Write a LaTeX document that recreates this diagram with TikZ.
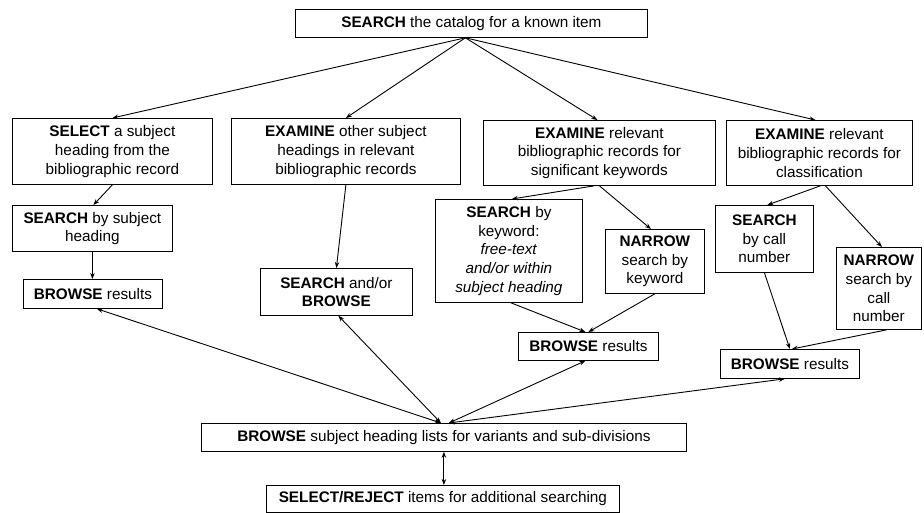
\documentclass[tikz,border=0pt]{standalone}
\usepackage{fontspec}
\setmainfont{Liberation Sans}
\usetikzlibrary{arrows.meta,calc}
\begin{document}
\begin{tikzpicture}[x=1pt,y=-1pt,
  box/.style={draw,line width=0.8pt,anchor=north west,align=center,inner sep=0pt,font=\fontsize{15.3}{18.7}\selectfont},
  arr/.style={line width=0.9pt,-{Stealth[length=6pt,width=4.5pt]}},
  darr/.style={line width=0.9pt,{Stealth[length=6pt,width=4.5pt]}-{Stealth[length=6pt,width=4.5pt]}}]
\useasboundingbox (0,0) rectangle (924,513);
\node[box,minimum width=352pt,minimum height=28pt] (top) at (295,9) {\textbf{SEARCH} the catalog for a known item};
\node[box,minimum width=200pt,minimum height=66pt] (A) at (12,118) {\textbf{SELECT} a subject\\heading from the\\bibliographic record};
\node[box,minimum width=229pt,minimum height=66pt] (B) at (231,118) {\textbf{EXAMINE} other subject\\headings in relevant\\bibliographic records};
\node[box,minimum width=232pt,minimum height=65pt] (C) at (483,120) {\textbf{EXAMINE} relevant\\bibliographic records for\\significant keywords};
\node[box,minimum width=186pt,minimum height=65pt] (D) at (726,120) {\textbf{EXAMINE} relevant\\bibliographic records for\\classification};
\node[box,minimum width=160pt,minimum height=46pt] (SA) at (12,205) {\textbf{SEARCH} by subject\\heading};
\node[box,minimum width=147pt,minimum height=103pt] (E) at (435,199) {\textbf{SEARCH} by\\keyword:\\\textit{free-text}\\\textit{and/or within}\\\textit{subject heading}};
\node[box,minimum width=99pt,minimum height=64pt] (NK) at (605,229) {\textbf{NARROW}\\search by\\keyword};
\node[box,minimum width=98pt,minimum height=67pt] (SC) at (715,205) {\textbf{SEARCH}\\by call\\number};
\node[box,minimum width=85pt,minimum height=82pt] (NC) at (836,247) {\textbf{NARROW}\\search by\\call\\number};
\node[box,minimum width=139pt,minimum height=29pt] (BL) at (23,279) {\textbf{BROWSE} results};
\node[box,minimum width=152pt,minimum height=47pt] (SB) at (260,268) {\textbf{SEARCH} and/or\\\textbf{BROWSE}};
\node[box,minimum width=140pt,minimum height=28pt] (BM) at (518,332) {\textbf{BROWSE} results};
\node[box,minimum width=139pt,minimum height=29pt] (BR) at (720,349) {\textbf{BROWSE} results};
\node[box,minimum width=485pt,minimum height=28pt] (BS) at (201,423) {\textbf{BROWSE} subject heading lists for variants and sub-divisions};
\node[box,minimum width=353pt,minimum height=27pt] (SR) at (266,485) {\textbf{SELECT/REJECT} items for additional searching};
\coordinate (t0) at ($(top.south)+(-6,0)$);
\draw[arr] (t0) -- (A.north);
\draw[arr] (t0) -- (B.north);
\draw[arr] (t0) -- ($(C.north)+(-2,0)$);
\draw[arr] (t0) -- ($(D.north)+(-4,0)$);
\draw[arr] (A.south) -- ($(SA.north)+(1,0)$);
\draw[arr] (SA.south) -- (SA.south |- BL.north);
\draw[arr] (B.south) -- (SB.north);
\draw[arr] ($(C.south)+(-5,0)$) -- ($(E.north)+(3,0)$);
\draw[arr] (C.south) -- ($(NK.north)+(-4,0)$);
\draw[arr] ($(D.south)+(1,0)$) -- ($(SC.north)+(3,0)$);
\draw[arr] ($(D.south)+(6,0)$) -- ($(NC.north)+(3,0)$);
\draw[arr] ($(E.south)+(2,0)$) -- ($(BM.north)+(-3,0)$);
\draw[arr] (NK.south) -- (BM.north);
\draw[arr] (SC.south) -- (BR.north);
\draw[arr] ($(NC.south)+(8,0)$) -- ($(BR.north)+(2,0)$);
\draw[darr] ($(BS.north)+(-3,0)$) -- ($(BL.south)+(4,0)$);
\draw[darr] ($(BS.north)+(-3,0)$) -- ($(SB.south)+(2,0)$);
\draw[darr] ($(BS.north)+(5,0)$) -- ($(BM.south)+(-3,0)$);
\draw[darr] ($(BS.north)+(5,0)$) -- ($(BR.south)+(-5,0)$);
\draw[darr] (BS.south) -- (BS.south |- SR.north);
\end{tikzpicture}
\end{document}
